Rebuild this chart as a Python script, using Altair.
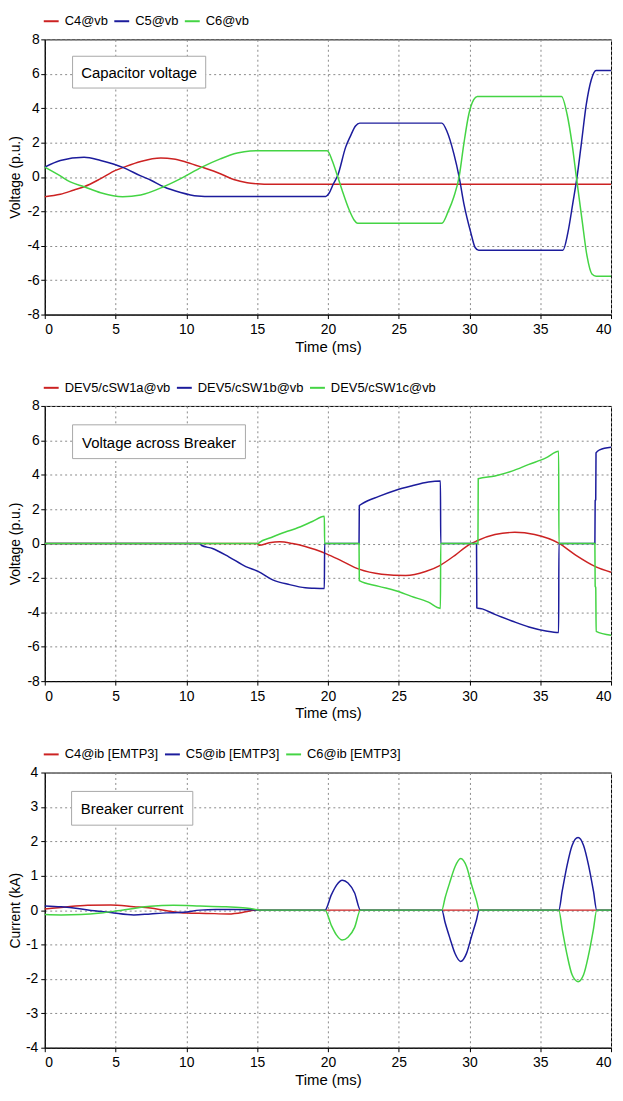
import altair as alt
import pandas as pd

# ---------------- Panel 1: capacitor voltage (p.u.) ----------------
p1_names = ["C4@vb", "C5@vb", "C6@vb"]
t1_c4 = [0, 1.1, 2.07, 2.78, 3.95, 5.0, 5.6, 6.78, 8.2, 9.1, 10.0, 11.1, 12.4, 13.35, 14.3, 15.0, 16.0, 40.0]
v1_c4 = [-1.15, -1.01, -0.76, -0.57, -0.1, 0.38, 0.57, 0.9, 1.1, 1.05, 0.86, 0.57, 0.19, -0.15, -0.34, -0.4, -0.43, -0.43]
t1_c5 = [0, 1.1, 2.78, 3.95, 5.6, 6.78, 7.5, 8.4, 9.6, 10.8, 11.3, 19.85, 20.07, 20.4, 20.7, 21.25, 21.6,
         21.95, 22.25, 28.05, 28.4, 28.9, 29.27, 29.6, 30.1, 30.4, 30.65, 36.6, 36.95, 37.3, 37.6, 37.9,
         38.25, 38.6, 38.95, 40.0]
v1_c5 = [0.57, 0.96, 1.15, 0.96, 0.53, 0.06, -0.19, -0.57, -0.9, -1.11, -1.13, -1.13, -0.96, -0.38, 0.1, 1.72, 2.39,
         2.96, 3.13, 3.13, 2.67, 1.34, 0.0, -1.53, -3.25, -4.1, -4.26, -4.26, -3.25, -1.53, 0.0, 1.91,
         4.2, 5.64, 6.19, 6.19]
t1_c6 = [0, 1.1, 1.8, 2.78, 3.95, 5.5, 6.78, 8.4, 9.6, 11.1, 12.4, 13.6, 14.5, 15.0, 19.95, 20.3, 20.66, 21.0,
         21.5, 21.85, 22.1, 28.05, 28.5, 28.9, 29.27, 29.6, 29.95, 30.3, 30.55, 36.5, 36.9, 37.25, 37.55,
         37.95, 38.3, 38.65, 38.95, 40.0]
v1_c6 = [0.57, 0.06, -0.29, -0.57, -0.92, -1.15, -1.05, -0.57, -0.1, 0.57, 1.05, 1.39, 1.51, 1.52, 1.52, 0.96, 0.1, -0.76,
         -1.91, -2.5, -2.69, -2.69, -2.0, -1.15, 0.0, 1.91, 3.63, 4.49, 4.68, 4.68, 3.63, 1.91, 0.0,
         -2.48, -4.58, -5.64, -5.77, -5.77]

# ---------------- Panel 2: voltage across breaker (p.u.) ----------------
p2_names = ["DEV5/cSW1a@vb", "DEV5/cSW1b@vb", "DEV5/cSW1c@vb"]
t2_a = [0, 15.0, 15.15, 15.85, 16.6, 17.5, 18.4, 19.1, 19.9, 21.0, 22.2, 23.8, 25.5, 26.9, 27.9, 29.0, 29.9,
        30.5, 31.8, 33.2, 34.6, 36.3, 37.5, 38.9, 40.0]
v2_a = [0, 0, -0.1, 0.04, 0.1, 0.0, -0.17, -0.35, -0.6, -1.02, -1.49, -1.78, -1.86, -1.63, -1.28, -0.67, -0.1,
        0.15, 0.52, 0.65, 0.52, 0.02, -0.67, -1.34, -1.67]
t2_b = [0, 11.0, 11.05, 11.85, 13.0, 14.2, 15.1, 16.1, 17.3, 18.4, 19.0, 19.75, 19.77, 22.2, 22.22, 22.4, 23.6,
        24.8, 25.9, 27.1, 27.95, 27.97, 30.5, 30.52, 30.9, 31.8, 33.0, 34.2, 35.4, 36.3, 36.32, 38.86,
        38.88, 38.92, 38.94, 39.2, 40.0]
v2_b = [0, 0, -0.1, -0.29, -0.77, -1.34, -1.63, -2.11, -2.39, -2.57, -2.6, -2.62, 0, 0, 2.2, 2.3, 2.74,
        3.1, 3.35, 3.58, 3.64, 0, 0, -3.74, -3.8, -4.12, -4.5, -4.85, -5.08, -5.17, 0, 0,
        2.5, 2.55, 5.27, 5.45, 5.6]
t2_c = [0, 15.1, 15.15, 16.0, 17.0, 17.7, 18.9, 19.75, 19.77, 22.2, 22.22, 23.6, 24.8, 25.9, 27.1, 27.95,
        27.97, 30.6, 30.62, 31.8, 33.0, 34.2, 35.4, 36.3, 36.32, 38.86, 38.88, 38.92, 38.95, 40.0]
v2_c = [0, 0, 0.05, 0.35, 0.67, 0.86, 1.28, 1.59, 0, 0, -2.16, -2.49, -2.74, -3.07, -3.41, -3.77,
        0, 0, 3.77, 3.93, 4.21, 4.6, 4.98, 5.36, 0, 0, -2.49, -2.55, -5.11, -5.33]

# ---------------- Panel 3: breaker current (kA) ----------------
p3_names = ["C4@ib [EMTP3]", "C5@ib [EMTP3]", "C6@ib [EMTP3]"]
t3_c4 = [0, 1.63, 3.03, 4.66, 6.29, 7.46, 8.62, 10.0, 11.4, 13.0, 14.2, 14.9, 40.0]
v3_c4 = [0.03, 0.1, 0.14, 0.15, 0.1, 0.06, -0.02, -0.085, -0.095, -0.11, -0.05, 0, 0]
t3_c5 = [0, 1.16, 2.33, 3.5, 4.66, 6.29, 7.46, 8.62, 9.8, 10.96, 12.1, 13.3, 14.7, 15.0, 19.79, 20.25, 20.6,
         21.02, 21.42, 21.89, 22.3, 28.05, 28.28, 28.63, 28.98, 29.38, 29.8, 30.15, 30.5, 30.68, 36.31,
         36.55, 36.9, 37.25, 37.67, 38.06, 38.41, 38.76, 38.99, 40.0]
v3_c5 = [0.12, 0.095, 0.05, -0.02, -0.07, -0.14, -0.11, -0.08, -0.06, 0, 0.02, 0.02, 0.01, 0, 0, 0.45, 0.72,
         0.87, 0.79, 0.5, 0, 0, -0.36, -0.83, -1.26, -1.49, -1.25, -0.76, -0.28, 0, 0,
         0.55, 1.31, 1.88, 2.11, 1.88, 1.31, 0.55, 0, 0]
t3_c6 = [0, 1.16, 2.56, 3.96, 5.13, 6.29, 7.46, 9.09, 10.96, 12.8, 14.2, 14.9, 15.2, 19.79, 20.25, 20.6, 21.02,
         21.42, 21.89, 22.3, 28.05, 28.28, 28.63, 28.98, 29.38, 29.8, 30.15, 30.5, 30.68, 36.31, 36.55,
         36.9, 37.25, 37.67, 38.06, 38.41, 38.76, 38.99, 40.0]
v3_c6 = [-0.13, -0.14, -0.13, -0.085, -0.02, 0.05, 0.11, 0.14, 0.12, 0.095, 0.06, 0.02, 0, 0, -0.45, -0.72, -0.87,
         -0.79, -0.5, 0, 0, 0.36, 0.83, 1.26, 1.5, 1.26, 0.74, 0.27, 0, 0, -0.55,
         -1.31, -1.88, -2.08, -1.88, -1.31, -0.55, 0, 0]

x_ticks = [0, 5, 10, 15, 20, 25, 30, 35, 40]
y_ticks_v = [-8, -6, -4, -2, 0, 2, 4, 6, 8]
y_ticks_i = [-4, -3, -2, -1, 0, 1, 2, 3, 4]

COLORS = ["#cc2222", "#1c1c9c", "#44d444"]
FONT = "Liberation Sans"
LABEL_EXPR = "datum.value < 0 ? '-' + abs(datum.value) : '' + datum.value"


def panel(series, names, ylabel, yticks, width, height, box_text, box, legend_x, legend_y,
          ylab_pad, ytitle_pad):
    xenc = alt.X("t:Q", scale=alt.Scale(domain=[0, 40], nice=False, zero=False),
                 axis=alt.Axis(values=x_ticks, title="Time (ms)", grid=True))
    yenc = alt.Y("v:Q", scale=alt.Scale(domain=[yticks[0], yticks[-1]], nice=False, zero=False),
                 axis=alt.Axis(values=yticks, title=ylabel, grid=True, labelExpr=LABEL_EXPR,
                               labelPadding=ylab_pad, titlePadding=ytitle_pad))
    cenc = alt.Color("series:N", scale=alt.Scale(domain=names, range=COLORS),
                     legend=alt.Legend(orient="none", legendX=legend_x, legendY=legend_y,
                                       direction="horizontal", title=None, symbolType="stroke",
                                       symbolStrokeWidth=2, symbolSize=225, labelFont=FONT,
                                       labelFontSize=13, labelColor="black", columnPadding=2,
                                       labelOffset=5, padding=0))
    one = alt.Data(values=[{"a": 1}])
    bx0, bx1, by0, by1 = box
    layers = [
        alt.Chart(one).mark_rect(fill="white", stroke="#a8a8a8", strokeWidth=1).encode(
            x=alt.value(bx0), x2=alt.value(bx1), y=alt.value(by0), y2=alt.value(by1)),
        alt.Chart(one).mark_text(font=FONT, fontSize=15, color="black", align="center",
                                 baseline="middle").encode(
            x=alt.value((bx0 + bx1) / 2), y=alt.value((by0 + by1) / 2 + 1), text=alt.value(box_text)),
    ]
    for name, ts, vs in series:
        df = pd.DataFrame({"series": name, "t": ts, "v": vs})
        layers.append(alt.Chart(df).mark_line(interpolate="monotone", strokeWidth=1.5).encode(
            x=xenc, y=yenc, color=cenc))
    return alt.layer(*layers).properties(width=width, height=height)


W = 570
H = 277
p1 = panel([(p1_names[0], t1_c4, v1_c4), (p1_names[1], t1_c5, v1_c5), (p1_names[2], t1_c6, v1_c6)],
           p1_names, "Voltage (p.u.)", y_ticks_v, W, H, "Capacitor voltage",
           (28, 162, 17, 49), -2, -27, 1.5, 4)
p2 = panel([(p2_names[0], t2_a, v2_a), (p2_names[1], t2_b, v2_b), (p2_names[2], t2_c, v2_c)],
           p2_names, "Voltage (p.u.)", y_ticks_v, W, H, "Voltage across Breaker",
           (28, 202, 19, 53), -2, -27, 1.5, 4)
p3 = panel([(p3_names[0], t3_c4, v3_c4), (p3_names[1], t3_c5, v3_c5), (p3_names[2], t3_c6, v3_c6)],
           p3_names, "Current (kA)", y_ticks_i, W, H, "Breaker current",
           (27, 149, 19, 53), -2, -27, 3, 3)

chart = (
    alt.vconcat(p1, p2, p3, spacing=23)
    .resolve_scale(color="independent")
    .properties(padding=0)
    .configure_view(stroke="black", strokeWidth=1)
    .configure_axis(domainColor="black", domainWidth=1, tickColor="black", tickSize=4,
                    labelFont=FONT, labelFontSize=14, labelColor="black",
                    titleFont=FONT, titleFontSize=14, titleFontWeight="normal", titleColor="black",
                    gridColor="#8a8a8a", gridDash=[2, 3], gridWidth=1)
    .configure_axisX(labelPadding=4, titlePadding=3, titleFontSize=15)
)

chart.save("out.html", embed_options={"renderer": "svg", "actions": False})
